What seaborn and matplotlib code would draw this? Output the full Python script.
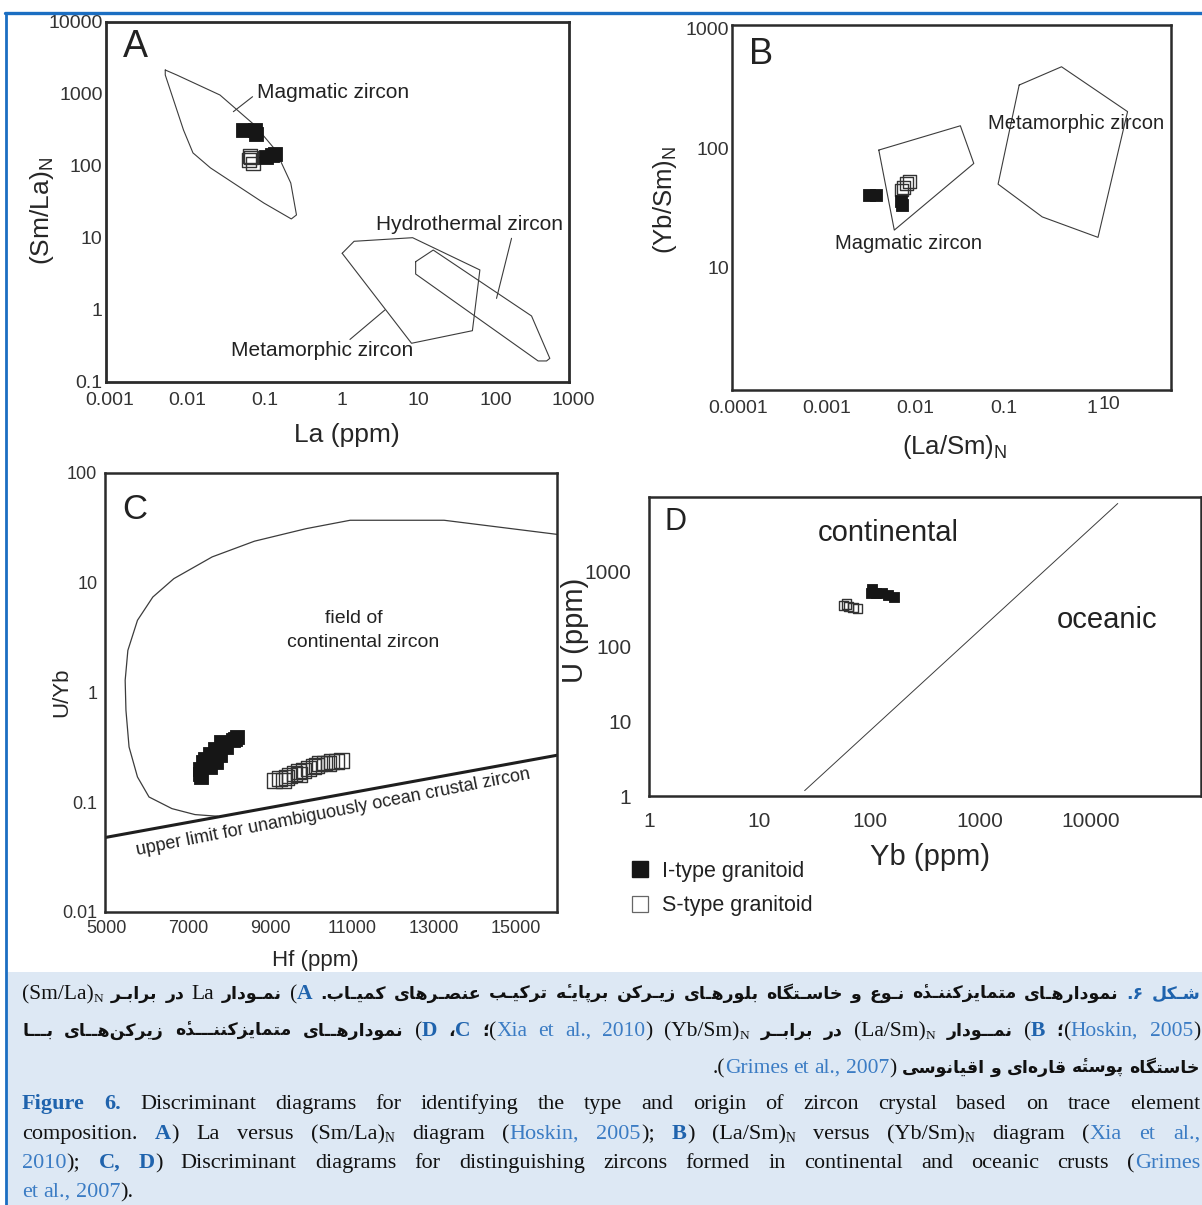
import pandas as pd
import seaborn as sns
import matplotlib
matplotlib.use('Agg')
import matplotlib.pyplot as plt
from matplotlib.lines import Line2D
from matplotlib.patches import Rectangle
from matplotlib.transforms import ScaledTranslation

# ---------------- panel A: La vs (Sm/La)N ----------------
a_mag_x = [0.00586, 0.00826, 0.030, 0.084, 0.157, 0.248, 0.294, 0.252, 0.111, 0.0226, 0.0134, 0.0101, 0.00586, 0.00586]
a_mag_y = [2154, 1837, 968, 371, 167, 58, 20.9, 18.4, 30.6, 94, 152, 316, 1837, 2154]
a_met_x = [1.15, 1.64, 9.4, 70, 56, 9.1, 1.15]
a_met_y = [6.13, 9.0, 10.1, 3.6, 0.516, 0.345, 6.13]
a_hyd_x = [10.3, 17.4, 327, 564, 512, 398, 10.3, 10.3]
a_hyd_y = [4.69, 6.8, 0.826, 0.213, 0.196, 0.196, 3.16, 4.69]
a_i_x = [0.0596, 0.0851, 0.0877, 0.141, 0.155, 0.118]
a_i_y = [316, 316, 278, 142, 147, 133]
a_s_x = [0.0733, 0.0756, 0.0712, 0.0802]
a_s_y = [138, 130, 121, 107]

# ---------------- panel B: (La/Sm)N vs (Yb/Sm)N ----------------
b_mag_x = [0.00457, 0.0382, 0.0542, 0.00684, 0.00457]
b_mag_y = [96.8, 154.6, 74.8, 20.7, 96.8]
b_met_x = [0.1766, 0.532, 2.97, 1.375, 0.322, 0.102, 0.1766]
b_met_y = [339, 482, 203, 18.0, 26.7, 50.2, 339]
b_i_x = [0.0035, 0.0043, 0.00805, 0.0083]
b_i_y = [40.6, 40.6, 36.2, 33.5]
b_s_x = [0.00942, 0.0102, 0.0087, 0.0083]
b_s_y = [51.2, 53.2, 47.4, 44.8]

# ---------------- panel C: Hf vs U/Yb ----------------
c_field_x = [16010, 13250, 10953, 9876, 8611, 7580, 6643, 6129, 5754, 5519, 5453, 5472,
             5548, 5754, 6036, 6596, 7159, 7720]
c_field_y = [27.6, 37.1, 37.1, 31.1, 23.9, 17.2, 10.9, 7.41, 4.55, 2.42, 1.29, 0.689,
             0.319, 0.170, 0.1117, 0.0875, 0.0772, 0.0745]
c_limit_x = [4960, 16010]
c_limit_y = [0.0477, 0.268]
c_i_x = [8133, 7808, 7644, 7930, 7521, 7766, 7399, 7357, 7685, 7277, 7521, 7277, 7318, 8175, 8092]
c_i_y = [0.380, 0.354, 0.308, 0.319, 0.277, 0.268, 0.250, 0.233, 0.233, 0.203, 0.210, 0.182, 0.170, 0.394, 0.367]
c_s_x = [9113, 9235, 9399, 9480, 9602, 9683, 9805, 9928, 10050, 10214, 10337, 10501, 10623, 10745,
         9316, 9725, 10133, 10418]
c_s_y = [0.158, 0.164, 0.168, 0.176, 0.182, 0.189, 0.195, 0.2026, 0.210, 0.225, 0.228, 0.233, 0.233, 0.238,
         0.158, 0.180, 0.217, 0.225]

# ---------------- panel D: Yb vs U ----------------
d_line_x = [25.7, 17620]
d_line_y = [1.18, 8185]
d_i_x = [105, 114, 128, 145, 165, 103]
d_i_y = [580, 513, 513, 487, 453, 513]
d_s_x = [57.8, 64.5, 70.3, 77.9, 61.9]
d_s_y = [354, 340, 329, 323, 369]

LINE = '#3c3c3c'
FRAME = '#2b2b2b'
BLUE_FRAME = '#1b6ec2'
LABEL_BLUE = '#1f63ad'
CITE_BLUE = '#3b7cc4'

sns.set_style('white')
plt.rcParams['font.family'] = ['Liberation Sans', 'DejaVu Sans']
plt.rcParams['mathtext.fontset'] = 'custom'
plt.rcParams['mathtext.rm'] = 'Liberation Sans'
plt.rcParams['text.color'] = '#222'

W, H = 1202, 1205
fig = plt.figure(figsize=(W / 100, H / 100), dpi=100)


def box(l, t, r, b):
    return [l / W, 1 - b / H, (r - l) / W, (b - t) / H]


def frame(ax, lw=1.8):
    for sp in ax.spines.values():
        sp.set_visible(True)
        sp.set_linewidth(lw)
        sp.set_color(FRAME)
    ax.grid(False)
    ax.minorticks_off()


def points(ax, xi, yi, xs, ys, size):
    df = pd.DataFrame({'x': xi + xs, 'y': yi + ys,
                       'type': ['I-type granitoid'] * len(xi) + ['S-type granitoid'] * len(xs)})
    sns.scatterplot(data=df[df['type'] == 'S-type granitoid'], x='x', y='y', marker='s', s=size,
                    facecolor='none', edgecolor='#333', linewidth=1.0, ax=ax, legend=False, zorder=3)
    sns.scatterplot(data=df[df['type'] == 'I-type granitoid'], x='x', y='y', marker='s', s=size,
                    color='#161616', edgecolor='#161616', linewidth=0.6, ax=ax, legend=False, zorder=4)
    ax.set_xlabel('')
    ax.set_ylabel('')


# ---- A ----
axA = fig.add_axes(box(106, 22, 569, 382))
axA.set_xscale('log')
axA.set_yscale('log')
axA.plot(a_mag_x, a_mag_y, color=LINE, lw=0.8)
axA.plot(a_met_x, a_met_y, color=LINE, lw=0.8)
axA.plot(a_hyd_x, a_hyd_y, color=LINE, lw=0.8)
axA.plot([0.0447, 0.0793], [568, 917], color=LINE, lw=0.8)
axA.plot([180, 115], [9.9, 1.45], color=LINE, lw=0.8)
axA.plot([1.45, 4.11], [0.39, 1.0], color=LINE, lw=0.8)
points(axA, a_i_x, a_i_y, a_s_x, a_s_y, 90)
frame(axA, 2.0)
axA.set_xlim(1e-3, 1e3)
axA.set_ylim(0.1, 1e4)
axA.set_xticks([1e-3, 1e-2, 1e-1, 1, 10, 100, 1000], ['0.001', '0.01', '0.1', '1', '10', '100', '1000'])
axA.set_yticks([0.1, 1, 10, 100, 1000, 1e4], ['0.1', '1', '10', '100', '1000', '10000'])
axA.tick_params(axis='x', direction='in', length=9, width=1, labelsize=14, pad=7, colors='#333')
axA.tick_params(axis='y', direction='in', length=9, width=1, labelsize=14, pad=2.5, colors='#333')
for lab in axA.get_xticklabels():
    lab.set_transform(lab.get_transform() + ScaledTranslation(0.04, 0, fig.dpi_scale_trans))
axA.set_xlabel('La (ppm)', fontsize=19, va='center')
axA.xaxis.set_label_coords(0.52, -0.147)
axA.set_ylabel('(Sm/La)$_\\mathregular{N}$', fontsize=19, va='center')
axA.yaxis.set_label_coords(-0.138, 0.475)
axA.text(0.0626, 0.93, 'A', transform=axA.transAxes, fontsize=27, ha='center', va='center')
axA.text(0.0904, 1066, 'Magmatic zircon', fontsize=15, ha='left', va='center')
axA.text(3.2, 15.2, 'Hydrothermal zircon', fontsize=15, ha='left', va='center')
axA.text(0.0416, 0.278, 'Metamorphic zircon', fontsize=15, ha='left', va='center')

# ---- B ----
axB = fig.add_axes(box(732, 25, 1171, 390))
axB.set_xscale('log')
axB.set_yscale('log')
axB.plot(b_mag_x, b_mag_y, color=LINE, lw=0.8)
axB.plot(b_met_x, b_met_y, color=LINE, lw=0.8)
points(axB, b_i_x, b_i_y, b_s_x, b_s_y, 85)
frame(axB, 1.8)
axB.set_xlim(1e-4, 9.2)
axB.set_ylim(0.95, 1078)
axB.set_xticks([1e-3, 1e-2, 1e-1, 1], ['0.001', '0.01', '0.1', '1'])
axB.set_xticks([1e-4], ['0.0001'], minor=True)
axB.set_yticks([10, 100], ['10', '100'])
axB.set_yticks([1000], ['1000'], minor=True)
axB.tick_params(axis='x', which='major', direction='in', length=11, width=1, labelsize=14, pad=7, colors='#333')
axB.tick_params(axis='x', which='minor', length=0, labelsize=14, pad=7, colors='#333')
axB.tick_params(axis='y', which='major', direction='in', length=9.5, width=1, labelsize=14, pad=2, colors='#333')
axB.tick_params(axis='y', which='minor', length=0, labelsize=14, pad=2, colors='#333')
for lab in axB.get_xticklabels() + axB.get_xticklabels(minor=True):
    lab.set_transform(lab.get_transform() + ScaledTranslation(0.06, 0, fig.dpi_scale_trans))
axB.annotate('10', xy=(1.85, -0.04), xycoords=('data', 'axes fraction'), fontsize=14,
             ha='center', va='center', color='#333', annotation_clip=False)
axB.set_xlabel('(La/Sm)$_\\mathregular{N}$', fontsize=18.5, va='center')
axB.xaxis.set_label_coords(0.508, -0.156)
axB.set_ylabel('(Yb/Sm)$_\\mathregular{N}$', fontsize=18.5, va='center')
axB.yaxis.set_label_coords(-0.153, 0.52)
axB.text(0.067, 0.92, 'B', transform=axB.transAxes, fontsize=26, ha='center', va='center')
axB.text(0.0793, 160, 'Metamorphic zircon', fontsize=14.5, ha='left', va='center')
axB.text(0.00145, 16.0, 'Magmatic zircon', fontsize=14.5, ha='left', va='center')

# ---- C ----
axC = fig.add_axes(box(105, 473, 557, 912))
axC.set_yscale('log')
axC.plot(c_field_x, c_field_y, color=LINE, lw=0.9)
axC.plot(c_limit_x, c_limit_y, color='#1e1e1e', lw=2.2)
points(axC, c_i_x, c_i_y, c_s_x, c_s_y, 115)
frame(axC, 1.8)
axC.set_xlim(4960, 16010)
axC.set_ylim(0.01, 100)
axC.set_xticks([7000, 9000, 11000, 13000, 15000], ['7000', '9000', '11000', '13000', '15000'])
axC.set_xticks([5000], ['5000'], minor=True)
axC.set_yticks([0.1, 1, 10], ['0.1', '1', '10'])
axC.set_yticks([0.01, 100], ['0.01', '100'], minor=True)
axC.tick_params(which='major', direction='in', length=5, width=1, labelsize=13, pad=5.5, colors='#333')
axC.tick_params(which='minor', length=0, labelsize=13, pad=5.5, colors='#333')
axC.set_xlabel('Hf (ppm)', fontsize=16, va='center')
axC.xaxis.set_label_coords(0.466, -0.111)
axC.set_ylabel('U/Yb', fontsize=16, va='center')
axC.yaxis.set_label_coords(-0.095, 0.5)
axC.text(0.066, 0.917, 'C', transform=axC.transAxes, fontsize=25, ha='center', va='center')
axC.text(11046, 4.71, 'field of', fontsize=14, ha='center', va='center')
axC.text(11282, 2.88, 'continental zircon', fontsize=14, ha='center', va='center')
axC.text(10532, 0.0815, 'upper limit for unambiguously ocean crustal zircon', fontsize=13,
         ha='center', va='center', rotation=11, rotation_mode='anchor')

# ---- D ----
axD = fig.add_axes(box(649, 497, 1201, 796))
axD.set_xscale('log')
axD.set_yscale('log')
axD.plot(d_line_x, d_line_y, color=LINE, lw=0.7)
points(axD, d_i_x, d_i_y, d_s_x, d_s_y, 45)
frame(axD, 1.8)
axD.set_xlim(1, 1e5)
axD.set_ylim(1, 1e4)
axD.set_xticks([10, 100, 1000, 10000], ['10', '100', '1000', '10000'])
axD.set_xticks([1], ['1'], minor=True)
axD.set_yticks([10, 100, 1000], ['10', '100', '1000'])
axD.set_yticks([1], ['1'], minor=True)
axD.tick_params(axis='x', which='major', direction='inout', length=11, width=1, labelsize=15, pad=6, colors='#333')
axD.tick_params(axis='x', which='minor', length=0, labelsize=15, pad=11.5, colors='#333')
axD.tick_params(axis='y', which='major', direction='out', length=9.5, width=1, labelsize=15, pad=3, colors='#333')
axD.tick_params(axis='y', which='minor', length=0, labelsize=15, pad=13, colors='#333')
axD.set_xlabel('Yb (ppm)', fontsize=21, va='center')
axD.xaxis.set_label_coords(0.509, -0.204)
axD.set_ylabel('U (ppm)', fontsize=21, va='center')
axD.yaxis.set_label_coords(-0.134, 0.555)
axD.text(0.0484, 0.916, 'D', transform=axD.transAxes, fontsize=22, ha='center', va='center')
axD.text(34.0, 3250, 'continental', fontsize=21, ha='left', va='center')
axD.text(4940, 225, 'oceanic', fontsize=21, ha='left', va='center')

h_i = Line2D([], [], ls='none', marker='s', markersize=11, markerfacecolor='#161616', markeredgecolor='#161616')
h_s = Line2D([], [], ls='none', marker='s', markersize=11, markerfacecolor='none',
             markeredgecolor='#666', markeredgewidth=0.9)
fig.legend([h_i, h_s], ['I-type granitoid', 'S-type granitoid'], loc='upper left',
           bbox_to_anchor=(631 / W, 1 - 861 / H), frameon=False, fontsize=15.5, handlelength=0.8,
           handletextpad=0.65, labelspacing=0.62, borderpad=0, borderaxespad=0)

# ---- page frame and caption box ----
fig.add_artist(Rectangle((7 / W, 0), (W - 7) / W, (H - 972) / H, transform=fig.transFigure,
                         facecolor='#dde8f4', edgecolor='none', zorder=0))
fig.add_artist(Line2D([5 / W, 1], [1 - 12.5 / H] * 2, transform=fig.transFigure, color=BLUE_FRAME, lw=2.4, zorder=5))
fig.add_artist(Line2D([6 / W] * 2, [0, 1 - 12.5 / H], transform=fig.transFigure, color=BLUE_FRAME, lw=2.0, zorder=5))

# ---- caption text ----
HEH_YEH = '\u06C0'
FORMS = {
    '\u0627': ('\uFE8D', '\uFE8E'), '\u0622': ('\uFE81', '\uFE82'),
    '\u062F': ('\uFEA9', '\uFEAA'), '\u0630': ('\uFEAB', '\uFEAC'),
    '\u0631': ('\uFEAD', '\uFEAE'), '\u0632': ('\uFEAF', '\uFEB0'),
    '\u0698': ('\uFB8A', '\uFB8B'), '\u0648': ('\uFEED', '\uFEEE'),
    # heh with hamza above: heh form followed by the combining hamza
    HEH_YEH: ('\uFEE9\u0654', '\uFEEA\u0654'),
    '\u0628': ('\uFE8F', '\uFE90', '\uFE91', '\uFE92'), '\u067E': ('\uFB56', '\uFB57', '\uFB58', '\uFB59'),
    '\u062A': ('\uFE95', '\uFE96', '\uFE97', '\uFE98'), '\u062B': ('\uFE99', '\uFE9A', '\uFE9B', '\uFE9C'),
    '\u062C': ('\uFE9D', '\uFE9E', '\uFE9F', '\uFEA0'), '\u0686': ('\uFB7A', '\uFB7B', '\uFB7C', '\uFB7D'),
    '\u062D': ('\uFEA1', '\uFEA2', '\uFEA3', '\uFEA4'), '\u062E': ('\uFEA5', '\uFEA6', '\uFEA7', '\uFEA8'),
    '\u0633': ('\uFEB1', '\uFEB2', '\uFEB3', '\uFEB4'), '\u0634': ('\uFEB5', '\uFEB6', '\uFEB7', '\uFEB8'),
    '\u0635': ('\uFEB9', '\uFEBA', '\uFEBB', '\uFEBC'), '\u0637': ('\uFEC1', '\uFEC2', '\uFEC3', '\uFEC4'),
    '\u0639': ('\uFEC9', '\uFECA', '\uFECB', '\uFECC'), '\u063A': ('\uFECD', '\uFECE', '\uFECF', '\uFED0'),
    '\u0641': ('\uFED1', '\uFED2', '\uFED3', '\uFED4'), '\u0642': ('\uFED5', '\uFED6', '\uFED7', '\uFED8'),
    '\u06A9': ('\uFB8E', '\uFB8F', '\uFB90', '\uFB91'), '\u06AF': ('\uFB92', '\uFB93', '\uFB94', '\uFB95'),
    '\u0644': ('\uFEDD', '\uFEDE', '\uFEDF', '\uFEE0'), '\u0645': ('\uFEE1', '\uFEE2', '\uFEE3', '\uFEE4'),
    '\u0646': ('\uFEE5', '\uFEE6', '\uFEE7', '\uFEE8'), '\u0647': ('\uFEE9', '\uFEEA', '\uFEEB', '\uFEEC'),
    '\u06CC': ('\uFBFC', '\uFBFD', '\uFBFE', '\uFBFF'),
}


def join_type(c):
    if c in FORMS:
        return 'D' if len(FORMS[c]) == 4 else 'R'
    if c == '\u0640':
        return 'C'
    return 'U'


def shape_fa(s):
    # contextual forms + right-to-left visual order (matplotlib has no shaping)
    out = []
    for i, c in enumerate(s):
        if c not in FORMS:
            if c != '\u200c':
                out.append(c)
            continue
        t = join_type(c)
        jp = i > 0 and join_type(s[i - 1]) in ('D', 'C')
        jn = t == 'D' and i + 1 < len(s) and join_type(s[i + 1]) in ('D', 'R', 'C')
        f = FORMS[c]
        if t == 'R':
            out.append(f[1] if jp else f[0])
        else:
            out.append(f[3] if (jp and jn) else f[1] if jp else f[2] if jn else f[0])
    return ''.join(reversed(out))


def style(code, en, fa):
    if code == 'fa':
        return dict(family='DejaVu Sans', size=fa, color='#111', weight='bold')
    if code == 'fab':
        return dict(family='DejaVu Sans', size=fa, color=LABEL_BLUE, weight='bold')
    if code == 'en':
        return dict(family='Liberation Serif', size=en, color='#111')
    if code == 'enc':
        return dict(family='Liberation Serif', size=en, color=CITE_BLUE)
    if code == 'enb':
        return dict(family='Liberation Serif', size=en, color=LABEL_BLUE, weight='bold')
    return dict(family='Liberation Serif', size=en * 0.62, color='#111')


renderer = fig.canvas.get_renderer()


def text_width(s, kw):
    t = fig.text(0, 0, s, **kw)
    w = t.get_window_extent(renderer=renderer).width
    t.remove()
    return w


def measure(tokens, en, fa):
    items, widths = [], []
    for tok in tokens:
        parts, wt = [], 0
        for txt, code in tok:
            if code.startswith('fa'):
                txt = shape_fa(txt)
            kw = style(code, en, fa)
            w = text_width(txt, kw)
            parts.append((txt, kw, wt, code))
            wt += w
        items.append(parts)
        widths.append(wt)
    return items, widths


def fit_size(tokens, x0, x1, en, fa, min_gap=7):
    # largest Persian size that still leaves min_gap between justified words
    while fa > 9:
        _, widths = measure(tokens, en, fa)
        if (x1 - x0 - sum(widths)) / (len(tokens) - 1) >= min_gap:
            break
        fa -= 0.25
    return fa


def put_line(tokens, y, x0, x1, mode, en, fa):
    items, widths = measure(tokens, en, fa)
    total = sum(widths)
    space = en * 0.25 * 100 / 72
    if mode == 'justify':
        gap = (x1 - x0 - total) / (len(tokens) - 1)
        x = x0
    elif mode == 'right':
        gap = space
        x = x1 - total - gap * (len(tokens) - 1)
    else:
        gap = space
        x = x0
    for parts, w in zip(items, widths):
        for txt, kw, off, code in parts:
            dy = 3 if code == 'sub' else 0
            fig.text((x + off) / W, 1 - (y + dy) / H, txt, ha='left', va='baseline', **kw)
        x += w + gap


def words(s, code='en'):
    return [[(w, code)] for w in s.split()]


fa_line1 = [
    [('(Sm/La)', 'en'), ('N', 'sub')], [('برابـر', 'fa')], [('در', 'fa')], [('La', 'en')],
    [('نمـودار', 'fa')], [('(', 'en'), ('A', 'enb')], [('کمیـاب.', 'fa')], [('عنصـرهای', 'fa')],
    [('ترکیـب', 'fa')], [('برپایـ' + HEH_YEH, 'fa')], [('زیـرکن', 'fa')], [('بلورهـای', 'fa')],
    [('خاسـتگاه', 'fa')], [('و', 'fa')], [('نـوع', 'fa')], [('متمایزکننـد' + HEH_YEH, 'fa')],
    [('نمودارهـای', 'fa')], [('۶.', 'fab')], [('شـکل', 'fab')],
]
fa_line2 = [
    [('بـــا', 'fa')], [('زیرکن\u200cهــای', 'fa')], [('متمایزکننـــد' + HEH_YEH, 'fa')], [('نمودارهــای', 'fa')],
    [('(', 'en'), ('D', 'enb')], [('،', 'fa'), ('C', 'enb')], [('؛', 'fa'), ('(', 'en'), ('Xia', 'enc')],
    [('et', 'enc')], [('al.,', 'enc')], [('2010', 'enc'), (')', 'en')], [('(Yb/Sm)', 'en'), ('N', 'sub')],
    [('برابــر', 'fa')], [('در', 'fa')], [('(La/Sm)', 'en'), ('N', 'sub')], [('نمــودار', 'fa')],
    [('(', 'en'), ('B', 'enb')], [('؛', 'fa'), ('(', 'en'), ('Hoskin,', 'enc')], [('2005', 'enc'), (')', 'en')],
]
fa_line3 = [
    [('.(', 'en'), ('Grimes', 'enc')], [('et', 'enc')], [('al.,', 'enc')], [('2007', 'enc'), (')', 'en')],
    [('اقیانوسی', 'fa')], [('و', 'fa')], [('قاره\u200cای', 'fa')], [('پوست' + HEH_YEH, 'fa')], [('خاستگاه', 'fa')],
]
en_line1 = [[('Figure', 'enb')], [('6.', 'enb')]] + words(
    'Discriminant diagrams for identifying the type and origin of zircon crystal based on trace element')
en_line2 = (words('composition.') + [[('A', 'enb'), (')', 'en')]] + words('La versus')
            + [[('(Sm/La)', 'en'), ('N', 'sub')]] + words('diagram')
            + [[('(', 'en'), ('Hoskin,', 'enc')], [('2005', 'enc'), (');', 'en')], [('B', 'enb'), (')', 'en')],
               [('(La/Sm)', 'en'), ('N', 'sub')]] + words('versus')
            + [[('(Yb/Sm)', 'en'), ('N', 'sub')]] + words('diagram')
            + [[('(', 'en'), ('Xia', 'enc')], [('et', 'enc')], [('al.,', 'enc')]])
en_line3 = ([[('2010', 'enc'), (');', 'en')], [('C,', 'enb')], [('D', 'enb'), (')', 'en')]]
            + words('Discriminant diagrams for distinguishing zircons formed in continental and oceanic crusts')
            + [[('(', 'en'), ('Grimes', 'enc')]])
en_line4 = [[('et', 'enc')], [('al.,', 'enc')], [('2007', 'enc'), (').', 'en')]]

FA_SIZE = min(fit_size(fa_line1, 22, 1200, 15.5, 13), fit_size(fa_line2, 22, 1200, 15.5, 13))
put_line(fa_line1, 999, 22, 1200, 'justify', 15.5, FA_SIZE)
put_line(fa_line2, 1036, 22, 1200, 'justify', 15.5, FA_SIZE)
put_line(fa_line3, 1073, 22, 1200, 'right', 15.5, FA_SIZE)
put_line(en_line1, 1109, 22, 1200, 'justify', 16, FA_SIZE)
put_line(en_line2, 1139, 22, 1200, 'justify', 16, FA_SIZE)
put_line(en_line3, 1168, 22, 1200, 'justify', 16, FA_SIZE)
put_line(en_line4, 1197, 22, 1200, 'left', 16, FA_SIZE)

fig.savefig('out.png', dpi=100)
